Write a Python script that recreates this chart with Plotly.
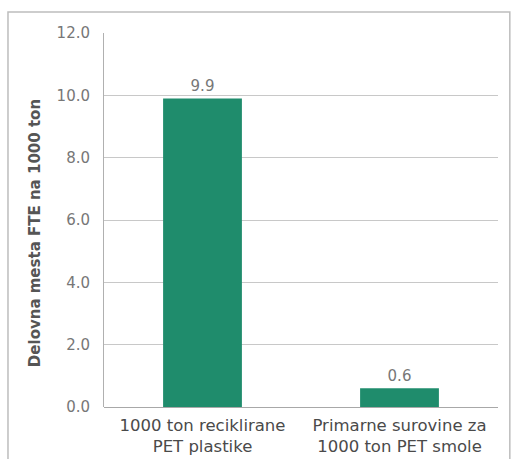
import plotly.graph_objects as go

categories = ["1000 ton reciklirane<br>PET plastike", "Primarne surovine za<br>1000 ton PET smole"]
values = [9.9, 0.6]
value_labels = ["9.9", "0.6"]
tick_vals = [0, 2, 4, 6, 8, 10, 12]
tick_text = ["0.0", "2.0", "4.0", "6.0", "8.0", "10.0", "12.0"]
y_title = "Delovna mesta FTE na 1000 ton"

FONT = "DejaVu Sans"
fig = go.Figure()
fig.add_trace(go.Bar(
    x=categories, y=values, text=value_labels, textposition="outside",
    textfont=dict(family=FONT, size=15, color="#777777"),
    marker=dict(color="#1f8c6c", line=dict(width=0)),
    cliponaxis=False,
))
fig.update_layout(
    width=515, height=459,
    margin=dict(l=104, r=17, t=33, b=52, autoexpand=False),
    paper_bgcolor="white", plot_bgcolor="white",
    bargap=0.6, showlegend=False,
    font=dict(family=FONT, color="#555555"),
    xaxis=dict(showgrid=False, showline=False, ticks="", ticklabelstandoff=6,
               automargin=False,
               tickfont=dict(family=FONT, size=16.5, color="#4a4a4a")),
    yaxis=dict(range=[0, 12], tickvals=tick_vals, ticktext=tick_text,
               automargin=False,
               showgrid=True, gridcolor="#c8c8c8", gridwidth=1,
               showline=True, linecolor="#b0b0b0", linewidth=1,
               ticks="outside", ticklen=10, tickcolor="rgba(0,0,0,0)",
               zeroline=True, zerolinecolor="#a8a8a8", zerolinewidth=1,
               tickfont=dict(family=FONT, size=15, color="#777777")),
)
fig.add_annotation(text=y_title, xref="paper", yref="paper",
                   x=-0.175, y=0.465, textangle=-90, showarrow=False,
                   xanchor="center", yanchor="middle",
                   font=dict(family=FONT, size=15, color="#555555", weight="bold"))
fig.add_shape(type="rect", xref="paper", yref="paper",
              x0=-0.2437, x1=1.03, y0=-0.3, y1=1.056,
              line=dict(color="#bdbdbd", width=1.5), layer="below")
fig.write_html("out.html")
